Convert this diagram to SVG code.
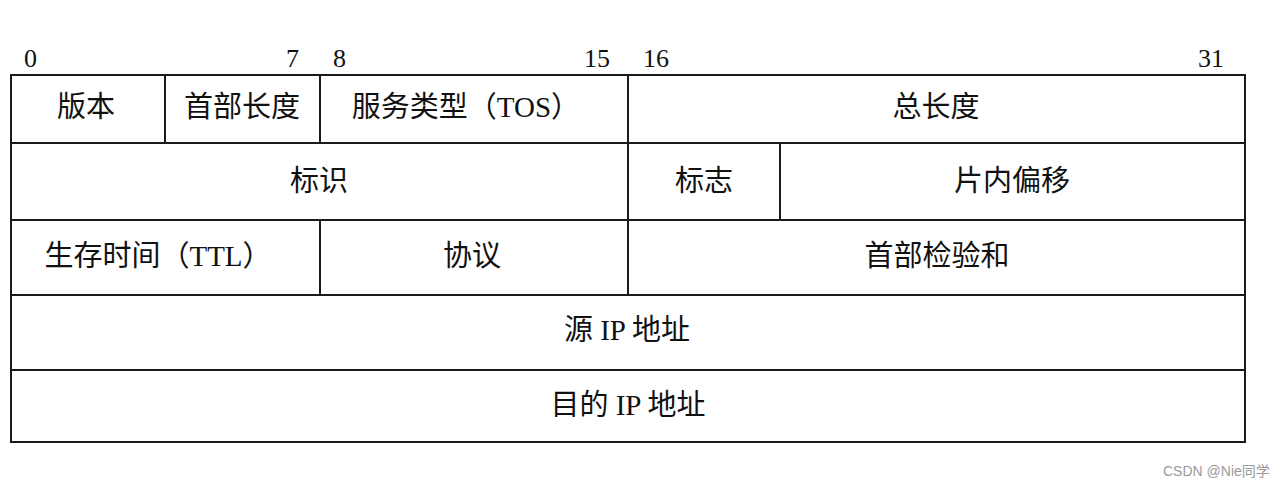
<svg xmlns="http://www.w3.org/2000/svg" width="1284" height="488" viewBox="0 0 1284 488">
<style>
.bg{fill:#ffffff}
.ln{stroke:#1a1a1a;stroke-width:2;fill:none}
.lbl{font-family:"Liberation Serif","Noto Sans CJK SC",serif;font-size:29px;fill:#111;text-anchor:middle;dominant-baseline:central}
.num{font-family:"Liberation Serif",serif;font-size:26px;fill:#111}
.wm{font-family:"Liberation Sans","Noto Sans CJK SC",sans-serif;font-size:14px;fill:#9a9a9a}
</style>
<rect class="bg" x="0" y="0" width="1284" height="488"/>
<g id="bit-numbers">
<text class="num" x="24" y="67">0</text>
<text class="num" x="286" y="67">7</text>
<text class="num" x="333" y="67">8</text>
<text class="num" x="584" y="67">15</text>
<text class="num" x="643" y="67">16</text>
<text class="num" x="1198" y="67">31</text>
</g>
<g id="connectors">
<rect class="ln" x="11" y="75" width="1234" height="367"/>
<line class="ln" x1="11" y1="143" x2="1245" y2="143"/>
<line class="ln" x1="11" y1="220" x2="1245" y2="220"/>
<line class="ln" x1="11" y1="295" x2="1245" y2="295"/>
<line class="ln" x1="11" y1="370" x2="1245" y2="370"/>
<line class="ln" x1="628" y1="75" x2="628" y2="295"/>
<line class="ln" x1="165" y1="75" x2="165" y2="143"/>
<line class="ln" x1="320" y1="75" x2="320" y2="143"/>
<line class="ln" x1="780" y1="143" x2="780" y2="220"/>
<line class="ln" x1="320" y1="220" x2="320" y2="295"/>
</g>
<g id="version"><text class="lbl" x="86" y="107">版本</text></g>
<g id="ihl"><text class="lbl" x="242" y="107">首部长度</text></g>
<g id="tos"><text class="lbl" x="466" y="107">服务类型（TOS）</text></g>
<g id="total-length"><text class="lbl" x="936" y="107">总长度</text></g>
<g id="identification"><text class="lbl" x="319" y="181">标识</text></g>
<g id="flags"><text class="lbl" x="704" y="181">标志</text></g>
<g id="fragment-offset"><text class="lbl" x="1012" y="181">片内偏移</text></g>
<g id="ttl"><text class="lbl" x="158" y="256">生存时间（TTL）</text></g>
<g id="protocol"><text class="lbl" x="472" y="256">协议</text></g>
<g id="checksum"><text class="lbl" x="937" y="256">首部检验和</text></g>
<g id="src-ip"><text class="lbl" x="627" y="330">源 IP 地址</text></g>
<g id="dst-ip"><text class="lbl" x="628" y="405">目的 IP 地址</text></g>
<g id="watermark"><text class="wm" x="1163" y="476">CSDN @Nie同学</text></g>
</svg>
